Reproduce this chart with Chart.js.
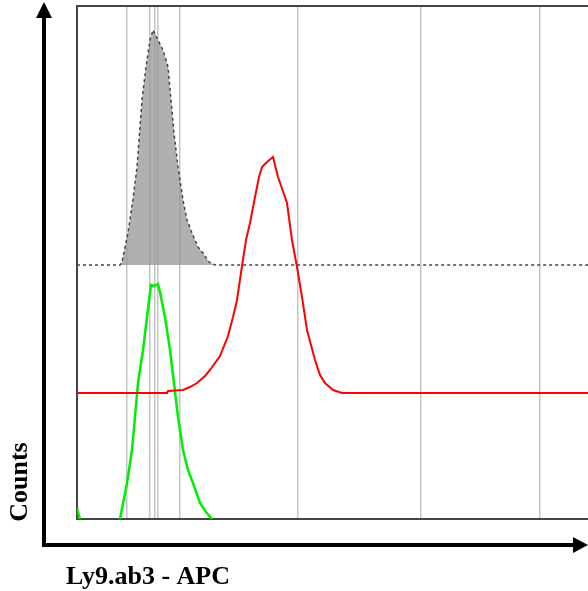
<!DOCTYPE html>
<html>
<head>
<meta charset="utf-8">
<script src="https://cdn.jsdelivr.net/npm/chart.js@4.4.1/dist/chart.umd.min.js"></script>
<style>
  body { margin: 0; background: #fff; }
</style>
</head>
<body>
<canvas id="mycanvas" width="588" height="591"></canvas>
<script>
// channel positions of the vertical reference lines
var gridX = [50, 73, 78, 81, 103, 221, 344, 463];

// gray control histogram (offset baseline 254)
var grayX = [0, 43, 45, 51, 56, 60, 65, 69, 73, 76, 81, 86, 91, 94, 97, 101, 106, 110, 115, 121, 126, 132, 138, 511];
var grayY = [254, 254, 257, 286, 320, 352, 419, 452, 479, 489, 479, 469, 452, 419, 386, 352, 319, 299, 286, 272, 266, 257, 254, 254];

// red histogram (offset baseline 126)
var redX = [0, 90, 91, 106, 113, 120, 128, 133, 143, 151, 156, 160, 165, 169, 173, 178, 182, 185, 190, 196, 201, 210, 215, 220, 225, 230, 238, 243, 248, 256, 265, 511];
var redY = [126, 126, 128, 129, 132, 136, 143, 149, 163, 183, 202, 219, 253, 279, 296, 322, 342, 352, 357, 362, 342, 316, 279, 252, 222, 189, 159, 144, 136, 129, 126, 126];

// green histogram (baseline 0); null marks where it runs along the axis
var greenX = [0, 3, 20, 43, 50, 55, 58, 61, 66, 70, 74, 77, 81, 83, 88, 93, 97, 101, 106, 111, 116, 123, 129, 135];
var greenY = [11, 0, null, 0, 36, 69, 102, 136, 169, 202, 234, 233, 235, 227, 202, 169, 136, 102, 69, 49, 36, 16, 7, 0];

var xLabel = "Ly9.ab3 - APC";
var yLabel = "Counts";

function pts(xs, ys) {
  var out = [];
  for (var i in xs) {
    out.push({x: xs[i], y: ys[i]});
  }
  return out;
}

var decor = {
  id: 'decor',
  afterDraw: function(chart) {
    var c = chart.ctx;
    var a = chart.chartArea;
    c.save();
    // top frame line
    c.strokeStyle = '#444';
    c.lineWidth = 2;
    c.beginPath();
    c.moveTo(a.left, a.top);
    c.lineTo(a.right, a.top);
    c.stroke();
    // axis arrows
    c.strokeStyle = '#000';
    c.fillStyle = '#000';
    c.lineWidth = 4;
    c.beginPath();
    c.moveTo(44, 547);
    c.lineTo(44, 16);
    c.moveTo(42, 545);
    c.lineTo(574, 545);
    c.stroke();
    c.beginPath();
    c.moveTo(44, 2);
    c.lineTo(36, 18);
    c.lineTo(52, 18);
    c.closePath();
    c.fill();
    c.beginPath();
    c.moveTo(588, 545);
    c.lineTo(573, 537);
    c.lineTo(573, 553);
    c.closePath();
    c.fill();
    // labels
    c.font = 'bold 26px "Liberation Serif", "Times New Roman", serif';
    c.textAlign = 'center';
    c.textBaseline = 'alphabetic';
    c.fillText(xLabel, 148, 584);
    c.translate(27, 482);
    c.rotate(-Math.PI / 2);
    c.fillText(yLabel, 0, 0);
    c.restore();
  }
};

var ctx = document.getElementById('mycanvas');

var chart = new Chart(ctx, {
  type: 'line',
  data: {
    datasets: [
      {
        label: 'control',
        data: pts(grayX, grayY),
        borderColor: '#444',
        borderWidth: 1.5,
        borderDash: [3, 3],
        backgroundColor: 'rgba(150,150,150,0.75)',
        fill: {value: 254},
        pointRadius: 0,
        tension: 0
      },
      {
        label: 'red',
        data: pts(redX, redY),
        borderColor: '#ff0000',
        borderWidth: 2,
        fill: false,
        pointRadius: 0,
        tension: 0
      },
      {
        label: 'green',
        data: pts(greenX, greenY),
        borderColor: '#00ee00',
        borderWidth: 2.5,
        fill: false,
        spanGaps: false,
        pointRadius: 0,
        tension: 0
      }
    ]
  },
  options: {
    responsive: false,
    animation: false,
    layout: {
      padding: {left: 77, top: 6, right: 0, bottom: 72}
    },
    plugins: {
      legend: {display: false},
      tooltip: {enabled: false}
    },
    scales: {
      x: {
        type: 'linear',
        min: 0,
        max: 511,
        afterBuildTicks: function(scale) {
          scale.ticks = gridX.map(function(v) { return {value: v}; });
        },
        ticks: {display: false},
        grid: {color: '#c4c4c4', lineWidth: 1.5, drawTicks: false},
        border: {display: true, color: '#444', width: 2}
      },
      y: {
        min: 0,
        max: 513,
        ticks: {display: false},
        grid: {display: false, drawTicks: false},
        border: {display: true, color: '#444', width: 2}
      }
    }
  },
  plugins: [decor]
});
</script>
</body>
</html>
